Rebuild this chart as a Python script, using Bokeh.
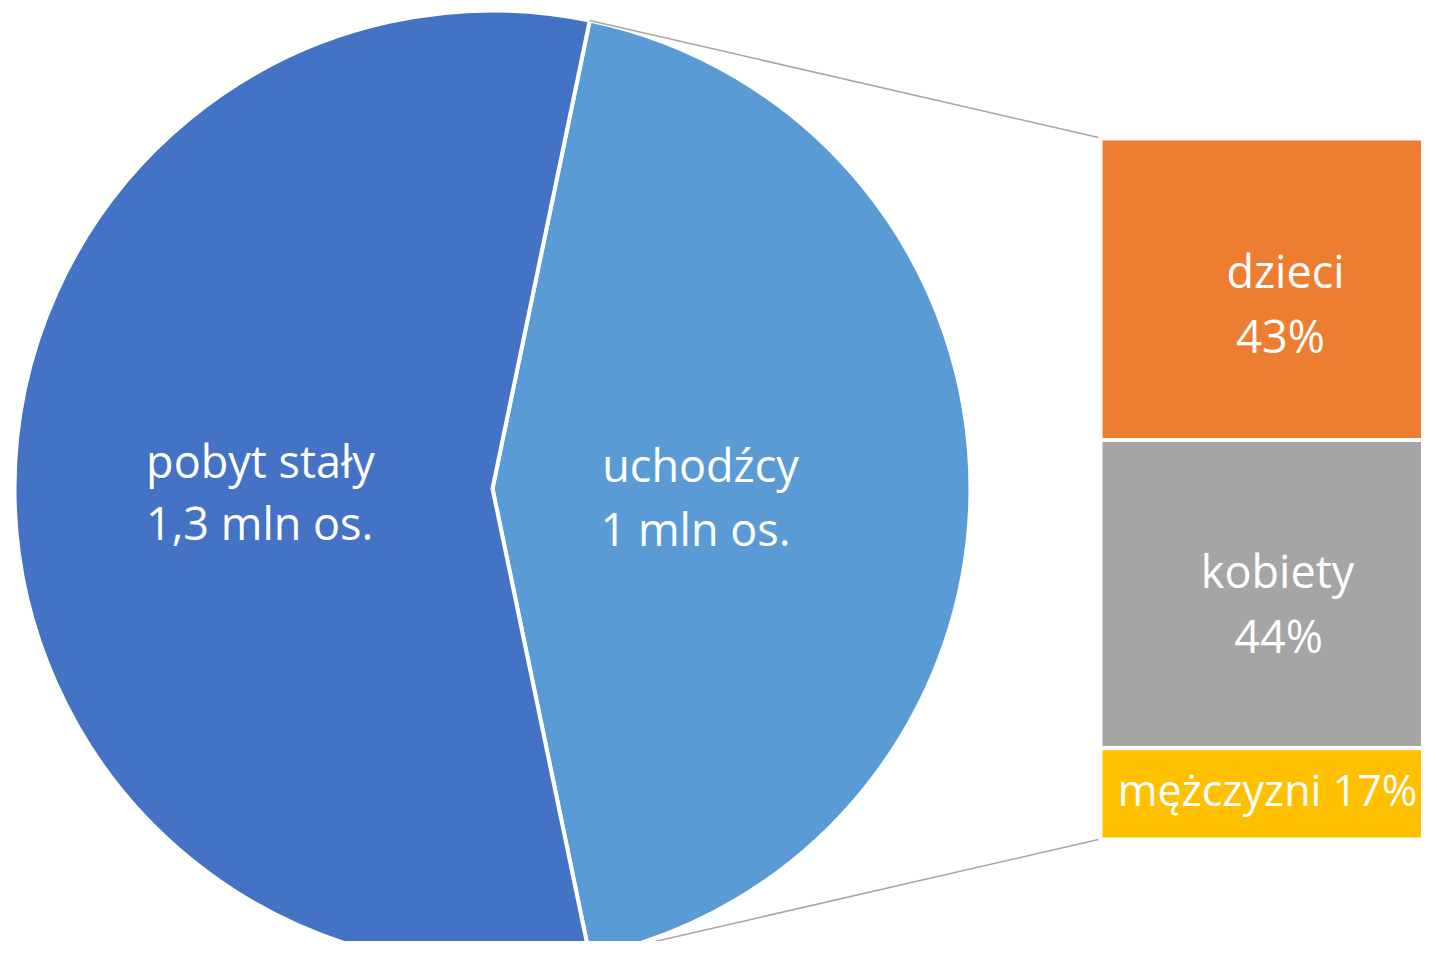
import math
from bokeh.plotting import figure
from bokeh.models import Range1d, ColumnDataSource
from bokeh.core.properties import value
from bokeh.embed import file_html
from bokeh.resources import INLINE

# ---- data ----
pie_labels = ["uchodźcy", "pobyt stały"]
pie_values = [1.0, 1.3]           # mln os.
pie_text = [["uchodźcy", "1 mln os."], ["pobyt stały", "1,3 mln  os."]]
pie_colors = ["#5B9BD5", "#4472C4"]

bar_labels = ["dzieci", "kobiety", "mężczyzni"]
bar_values = [43, 44, 13]         # drawn shares of the split slice
bar_text = [["dzieci", "43%"], ["kobiety", "44%"], ["mężczyzni 17%"]]
bar_colors = ["#ED7D31", "#A5A5A5", "#FFC000"]

# ---- layout (image pixel space, y measured downward) ----
W, H = 1421, 941
IMG_H = 957
def Y(y_img):
    return IMG_H - y_img

cx, cy, R = 492, Y(488), 478
bar_left, bar_right = 1100, 1458
bar_top, bar_bottom = 138, 839
FONT = value("Open Sans")
DY = 17  # baseline correction

pie_label_pos = [[(700, 481), (695, 545)], [(260, 477), (265, 539)]]
bar_label_pos = [[(1285, 287), (1280, 352)], [(1277, 587), (1278, 652)], [(1267, 806)]]

p = figure(width=W, height=H, output_backend="svg", toolbar_location=None,
           x_range=Range1d(0, W), y_range=Range1d(IMG_H - H, IMG_H),
           min_border=0)
p.axis.visible = False
p.grid.visible = False
p.outline_line_color = None
p.background_fill_color = "white"
p.border_fill_color = "white"

# ---- pie ----
total = sum(pie_values)
half = math.pi * pie_values[0] / total
starts = [-half, half]
ends = [half, 2 * math.pi - half]
pie_src = ColumnDataSource(dict(x=[cx, cx], y=[cy, cy], start=starts, end=ends, color=pie_colors))
p.wedge(x="x", y="y", radius=R, radius_units="data", start_angle="start", end_angle="end",
        fill_color="color", line_color="white", line_width=4, source=pie_src)

# ---- connector lines ----
px_top = cx + R * math.cos(half)
py_top = cy + R * math.sin(half)
px_bot = cx + R * math.cos(-half)
py_bot = cy + R * math.sin(-half)
p.segment(x0=[px_top, px_bot], y0=[py_top, py_bot], x1=[bar_left - 2, bar_left - 2],
          y1=[Y(bar_top - 1), Y(bar_bottom)], line_color="#A6A6A6", line_width=1.5)

# ---- stacked bar ----
btot = sum(bar_values)
span = bar_bottom - bar_top
tops, bots = [], []
acc = 0
for v in bar_values:
    t = bar_top + span * acc / btot
    acc += v
    b = bar_top + span * acc / btot
    tops.append(Y(t))
    bots.append(Y(b))
bar_src = ColumnDataSource(dict(left=[bar_left] * 3, right=[bar_right] * 3, top=tops,
                                bottom=bots, color=bar_colors))
p.quad(left="left", right="right", top="top", bottom="bottom", fill_color="color",
       line_color="white", line_width=4, source=bar_src)

# ---- labels ----
xs, ys, ts, fs = [], [], [], []
for lines, pos in zip(pie_text + bar_text, pie_label_pos + bar_label_pos):
    for t, (x, y) in zip(lines, pos):
        xs.append(x)
        ys.append(Y(y - DY))
        ts.append(t)
        fs.append("43px" if len(t) > 12 else "45px")
lab_src = ColumnDataSource(dict(x=xs, y=ys, text=ts, fs=fs))
p.text(x="x", y="y", text="text", text_font=FONT, text_font_size="fs", text_color="white",
       text_align="center", text_baseline="alphabetic", source=lab_src)

open("out.html", "w").write(file_html(p, INLINE))
